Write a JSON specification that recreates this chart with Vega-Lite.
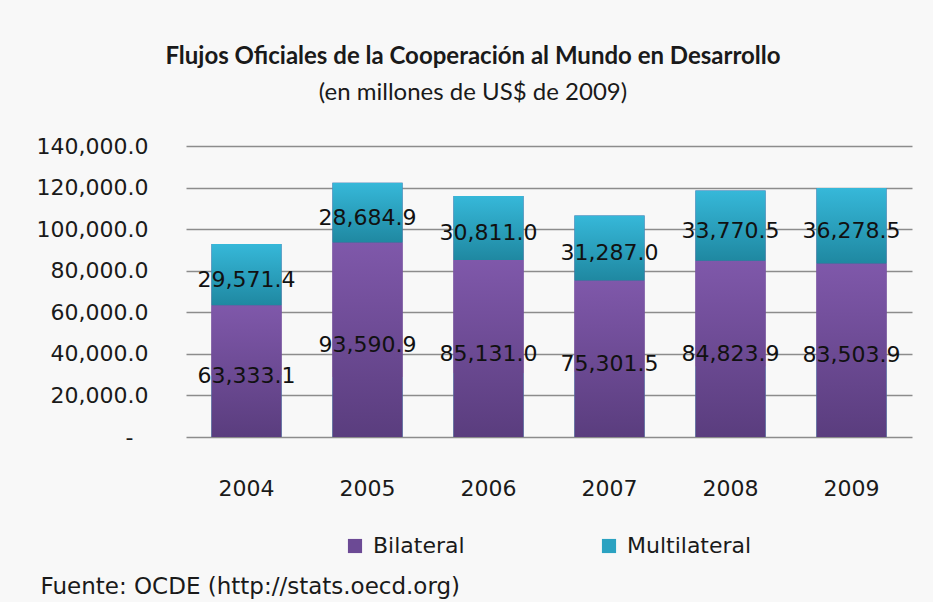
{
  "$schema": "https://vega.github.io/schema/vega-lite/v6.json",
  "width": 726,
  "height": 291,
  "autosize": {"type": "none"},
  "padding": {"left": 186, "top": 146, "right": 21, "bottom": 165},
  "background": "#f8f8f8",
  "view": {"stroke": null},
  "title": {
    "text": "Flujos Oficiales  de la Cooperación  al Mundo en Desarrollo",
    "subtitle": "(en millones de US$  de 2009)",
    "font": "Lato",
    "fontSize": 24,
    "fontWeight": "bold",
    "subtitleFont": "Lato",
    "subtitleFontSize": 24,
    "subtitleFontWeight": "normal",
    "anchor": "middle",
    "dx": -76,
    "offset": 30,
    "color": "#1a1a1a",
    "subtitleColor": "#1a1a1a",
    "subtitlePadding": 12
  },
  "data": {
    "values": [
      {"Año": "2004", "Tipo": "Bilateral", "Monto": 63333.1},
      {"Año": "2004", "Tipo": "Multilateral", "Monto": 29571.4},
      {"Año": "2005", "Tipo": "Bilateral", "Monto": 93590.9},
      {"Año": "2005", "Tipo": "Multilateral", "Monto": 28684.9},
      {"Año": "2006", "Tipo": "Bilateral", "Monto": 85131.0},
      {"Año": "2006", "Tipo": "Multilateral", "Monto": 30811.0},
      {"Año": "2007", "Tipo": "Bilateral", "Monto": 75301.5},
      {"Año": "2007", "Tipo": "Multilateral", "Monto": 31287.0},
      {"Año": "2008", "Tipo": "Bilateral", "Monto": 84823.9},
      {"Año": "2008", "Tipo": "Multilateral", "Monto": 33770.5},
      {"Año": "2009", "Tipo": "Bilateral", "Monto": 83503.9},
      {"Año": "2009", "Tipo": "Multilateral", "Monto": 36278.5}
    ]
  },
  "layer": [
    {
      "mark": {"type": "bar"},
      "encoding": {
        "x": {
          "field": "Año",
          "type": "ordinal",
          "scale": {"paddingInner": 0.42, "paddingOuter": 0.21},
          "axis": {
            "labelAngle": 0,
            "ticks": false,
            "domain": false,
            "labelPadding": 41,
            "labelFont": "DejaVu Sans",
            "labelFontSize": 22,
            "labelColor": "#1a1a1a",
            "title": "Fuente: OCDE (http://stats.oecd.org)",
            "titleFont": "DejaVu Sans",
            "titleFontSize": 23,
            "titleFontWeight": "normal",
            "titleColor": "#1a1a1a",
            "titleAnchor": "start",
            "titleAlign": "left",
            "titleBaseline": "middle",
            "titleX": -146,
            "titleY": 149
          }
        },
        "y": {
          "field": "Monto",
          "type": "quantitative",
          "stack": "zero",
          "scale": {"domain": [0, 140000], "nice": false},
          "axis": {
            "values": [0, 20000, 40000, 60000, 80000, 100000, 120000, 140000],
            "labelExpr": "datum.value == 0 ? '-' : format(datum.value, ',.1f')",
            "grid": true,
            "gridColor": "#8c8c8c",
            "gridWidth": 1.5,
            "ticks": false,
            "domain": false,
            "labelPadding": {"condition": {"test": "datum.value == 0", "value": 53}, "value": 38},
            "labelFont": "DejaVu Sans",
            "labelFontSize": 22,
            "labelColor": "#1a1a1a",
            "title": null
          }
        },
        "color": {
          "field": "Tipo",
          "type": "nominal",
          "scale": {"domain": ["Bilateral", "Multilateral"], "range": ["#6c4a95", "#2ba2c1"]},
          "legend": {
            "orient": "none",
            "legendX": 158,
            "legendY": 389,
            "direction": "horizontal",
            "columns": 2,
            "columnPadding": 133,
            "title": null,
            "symbolType": "square",
            "symbolSize": 200,
            "symbolStrokeWidth": 0,
            "labelFont": "DejaVu Sans",
            "labelFontSize": 22,
            "labelColor": "#1a1a1a",
            "labelOffset": 7
          }
        }
      }
    },
    {
      "mark": {"type": "bar"},
      "encoding": {
        "x": {"field": "Año", "type": "ordinal"},
        "y": {"field": "Monto", "type": "quantitative", "stack": "zero"},
        "order": {"field": "Tipo", "type": "nominal", "sort": "ascending"},
        "color": {
          "condition": {
            "test": "datum.Tipo == 'Bilateral'",
            "value": {"gradient": "linear", "x1": 0, "y1": 0, "x2": 0, "y2": 1, "stops": [{"offset": 0, "color": "#7f58aa"}, {"offset": 1, "color": "#5a3d7e"}]}
          },
          "value": {"gradient": "linear", "x1": 0, "y1": 0, "x2": 0, "y2": 1, "stops": [{"offset": 0, "color": "#36b8d9"}, {"offset": 1, "color": "#1f88a1"}]}
        }
      }
    },
    {
      "transform": [
        {"stack": "Monto", "groupby": ["Año"], "sort": [{"field": "Tipo", "order": "ascending"}], "as": ["y0", "y1"]},
        {"fold": ["y0", "y1"], "as": ["extremo", "pos"]},
        {"aggregate": [{"op": "mean", "field": "pos", "as": "medio"}], "groupby": ["Año", "Tipo", "Monto"]}
      ],
      "mark": {"type": "text", "font": "DejaVu Sans", "fontSize": 22, "color": "#111111", "baseline": "middle", "align": "center", "dy": 5},
      "encoding": {
        "x": {"field": "Año", "type": "ordinal"},
        "y": {"field": "medio", "type": "quantitative", "scale": {"domain": [0, 140000], "nice": false}, "title": null},
        "text": {"field": "Monto", "type": "quantitative", "format": ",.1f"}
      }
    }
  ]
}
